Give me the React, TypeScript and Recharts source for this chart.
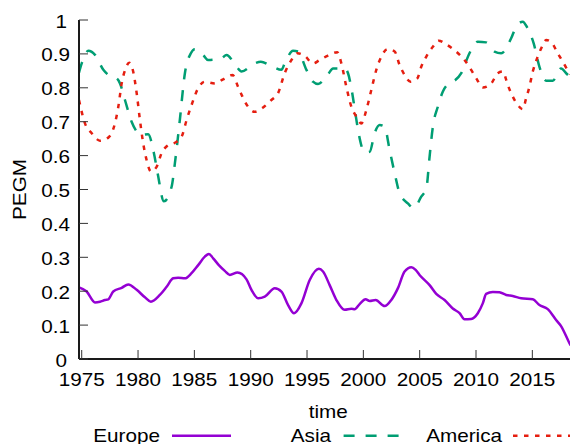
import React from 'react';
import { LineChart, Line, XAxis, YAxis, Label } from 'recharts';

const europeYears = [1974.76, 1975.44, 1976.18, 1976.62, 1977.07, 1977.36, 1977.8, 1978.55, 1979.13, 1979.88, 1980.61, 1981.14, 1981.94, 1982.54, 1983.12, 1983.56, 1984.16, 1984.75, 1985.34, 1985.93, 1986.29, 1986.67, 1987.17, 1987.7, 1988.15, 1988.83, 1989.63, 1990.07, 1990.66, 1991.25, 1992.14, 1992.73, 1993.32, 1993.85, 1994.5, 1995.24, 1996.05, 1996.42, 1997.01, 1997.61, 1998.34, 1998.94, 1999.23, 1999.67, 2000.2, 2000.56, 2001.09, 2001.89, 2002.48, 2003.07, 2003.66, 2004.26, 2004.64, 2004.99, 2005.88, 2006.47, 2007.21, 2007.94, 2008.54, 2008.98, 2009.57, 2010.16, 2010.6, 2010.9, 2011.49, 2012.08, 2012.68, 2013.26, 2014.01, 2015.04, 2015.63, 2016.37, 2017.11, 2017.55, 2018.23, 2018.4];
const europeValues = [0.211, 0.199, 0.167, 0.169, 0.174, 0.176, 0.199, 0.21, 0.22, 0.204, 0.182, 0.169, 0.189, 0.213, 0.238, 0.24, 0.238, 0.253, 0.277, 0.302, 0.31, 0.297, 0.277, 0.26, 0.248, 0.255, 0.235, 0.204, 0.179, 0.184, 0.209, 0.199, 0.159, 0.135, 0.164, 0.233, 0.266, 0.258, 0.218, 0.174, 0.145, 0.148, 0.147, 0.162, 0.176, 0.171, 0.174, 0.156, 0.174, 0.209, 0.258, 0.271, 0.263, 0.248, 0.218, 0.192, 0.174, 0.149, 0.135, 0.117, 0.118, 0.135, 0.164, 0.192, 0.198, 0.197, 0.189, 0.186, 0.179, 0.176, 0.159, 0.147, 0.115, 0.097, 0.051, 0.04];

const asiaYears = [1974.76, 1975.0, 1975.59, 1976.18, 1976.92, 1977.5, 1978.1, 1978.4, 1978.84, 1979.43, 1980.32, 1980.9, 1981.41, 1981.74, 1982.3, 1982.98, 1983.27, 1983.71, 1984.16, 1984.69, 1985.04, 1985.78, 1986.22, 1987.41, 1987.85, 1988.74, 1989.18, 1990.36, 1990.9, 1991.69, 1992.73, 1993.02, 1993.76, 1994.2, 1994.95, 1995.53, 1995.98, 1996.86, 1997.31, 1998.34, 1998.64, 1998.99, 1999.29, 1999.61, 2000.12, 2000.56, 2001.0, 2001.45, 2001.89, 2002.33, 2002.78, 2003.22, 2003.95, 2004.49, 2005.14, 2005.59, 2005.88, 2006.17, 2006.61, 2007.06, 2007.5, 2007.8, 2008.69, 2009.42, 2010.16, 2010.9, 2011.64, 2012.23, 2013.12, 2013.56, 2014.15, 2014.54, 2015.12, 2015.63, 2016.22, 2016.81, 2017.55, 2018.0, 2018.4];
const asiaValues = [0.845, 0.872, 0.909, 0.897, 0.853, 0.835, 0.828, 0.813, 0.764, 0.7, 0.661, 0.663, 0.607, 0.548, 0.465, 0.508, 0.577, 0.705, 0.843, 0.902, 0.914, 0.897, 0.882, 0.887, 0.897, 0.862, 0.848, 0.872, 0.877, 0.867, 0.853, 0.872, 0.909, 0.907, 0.853, 0.818, 0.811, 0.84, 0.857, 0.857, 0.843, 0.789, 0.725, 0.661, 0.609, 0.611, 0.666, 0.69, 0.685, 0.617, 0.548, 0.489, 0.459, 0.445, 0.479, 0.503, 0.597, 0.685, 0.744, 0.789, 0.81, 0.815, 0.843, 0.902, 0.936, 0.934, 0.907, 0.902, 0.946, 0.98, 0.995, 0.978, 0.931, 0.862, 0.821, 0.821, 0.857, 0.843, 0.83];

const americaYears = [1974.76, 1975.29, 1975.89, 1976.62, 1977.36, 1977.95, 1978.25, 1978.55, 1978.9, 1979.22, 1979.57, 1979.88, 1980.17, 1980.46, 1980.76, 1981.14, 1981.65, 1982.09, 1982.68, 1983.27, 1983.87, 1984.31, 1984.75, 1985.34, 1985.93, 1986.82, 1987.55, 1988.39, 1988.88, 1989.27, 1989.77, 1990.36, 1991.1, 1991.84, 1992.43, 1993.02, 1993.62, 1994.15, 1994.8, 1995.53, 1996.13, 1996.86, 1997.69, 1998.05, 1998.49, 1998.94, 1999.38, 1999.82, 2000.27, 2000.71, 2001.15, 2001.6, 2002.13, 2002.78, 2003.22, 2003.66, 2004.19, 2004.79, 2005.14, 2005.59, 2006.17, 2006.68, 2007.36, 2008.24, 2008.98, 2009.57, 2010.02, 2010.6, 2011.35, 2011.93, 2012.38, 2012.82, 2013.26, 2013.71, 2014.15, 2014.45, 2014.74, 2015.04, 2015.48, 2015.93, 2016.22, 2016.72, 2017.25, 2017.79, 2018.21, 2018.4];
const americaValues = [0.764, 0.695, 0.666, 0.644, 0.653, 0.695, 0.744, 0.813, 0.857, 0.874, 0.848, 0.784, 0.705, 0.636, 0.587, 0.553, 0.567, 0.607, 0.631, 0.638, 0.656, 0.705, 0.749, 0.799, 0.818, 0.813, 0.825, 0.838, 0.803, 0.774, 0.744, 0.729, 0.742, 0.764, 0.784, 0.843, 0.882, 0.902, 0.894, 0.872, 0.882, 0.895, 0.905, 0.872, 0.803, 0.744, 0.715, 0.695, 0.735, 0.794, 0.853, 0.892, 0.914, 0.907, 0.867, 0.838, 0.818, 0.828, 0.862, 0.892, 0.921, 0.939, 0.928, 0.907, 0.882, 0.853, 0.828, 0.801, 0.813, 0.843, 0.848, 0.808, 0.774, 0.749, 0.737, 0.769, 0.803, 0.848, 0.892, 0.926, 0.941, 0.933, 0.902, 0.872, 0.848, 0.84];

const xTicks = [1975, 1980, 1985, 1990, 1995, 2000, 2005, 2010, 2015];
const yTicks = [0, 0.1, 0.2, 0.3, 0.4, 0.5, 0.6, 0.7, 0.8, 0.9, 1];
const xDomain = [1974.76, 2019];
const yDomain = [0, 1];

const seriesNames = ['Europe', 'Asia', 'America'];
const xTitle = 'time';
const yTitle = 'PEGM';

const toRows = (ts: number[], vs: number[]) => ts.map((t, i) => ({ t, v: vs[i] }));
const europeRows = toRows(europeYears, europeValues);
const asiaRows = toRows(asiaYears, asiaValues);
const americaRows = toRows(americaYears, americaValues);

const FONT = '"Liberation Sans", Arial, sans-serif';
const SX = 1.15;
const PURPLE = '#9400d3';
const GREEN = '#009e73';
const RED = '#e51e10';
const AXIS = '#1a1a1a';
const TICK = '#333';

function BottomTick(props: any) {
  const { x, y, payload } = props;
  return (
    <g>
      <line x1={x} y1={y} x2={x} y2={y - 9} stroke={TICK} strokeWidth={1} />
      <text transform={`translate(${x},${y + 27}) scale(${SX},1)`} textAnchor="middle" fontSize={18} fontFamily={FONT} fill="#000">
        {payload.value}
      </text>
    </g>
  );
}

function TopTick(props: any) {
  const { x, y } = props;
  return <line x1={x} y1={y} x2={x} y2={y + 9} stroke={TICK} strokeWidth={1} />;
}

function LeftTick(props: any) {
  const { x, y, payload } = props;
  const v = payload.value as number;
  const isInt = v === 0 || v === 1;
  const label = isInt ? String(v) : v.toFixed(1);
  const endX = isInt ? x - 12 : x - 9;
  return (
    <g>
      <line x1={x} y1={y} x2={x + 9} y2={y} stroke={TICK} strokeWidth={1} />
      <text transform={`translate(${endX},${y + 7.5}) scale(${SX},1)`} textAnchor="end" fontSize={18} fontFamily={FONT} fill="#000">
        {label}
      </text>
    </g>
  );
}

function XTitle(props: any) {
  const vb = props.viewBox || { x: 79, y: 359, width: 498, height: 85 };
  const cx = vb.x + vb.width / 2;
  return (
    <text transform={`translate(${cx},${vb.y + 58.7}) scale(${SX},1)`} textAnchor="middle" fontSize={18} fontFamily={FONT} fill="#000">
      {xTitle}
    </text>
  );
}

function YTitle(props: any) {
  const vb = props.viewBox || { x: 0, y: 20, width: 79, height: 339 };
  const cy = vb.y + vb.height / 2;
  return (
    <text transform={`translate(${vb.x + 26.3},${cy}) rotate(-90) scale(${SX},1)`} textAnchor="middle" fontSize={18} fontFamily={FONT} fill="#000">
      {yTitle}
    </text>
  );
}

function LegendOverlay() {
  const ty = 442;
  const ly = 435.7;
  const txt = (x: number, s: string) => (
    <text transform={`translate(${x},${ty}) scale(${SX},1)`} textAnchor="end" fontSize={18} fontFamily={FONT} fill="#000">
      {s}
    </text>
  );
  return (
    <svg width={570} height={444} style={{ position: 'absolute', left: 0, top: 0, pointerEvents: 'none' }}>
      {txt(160, seriesNames[0])}
      <line x1={172} y1={ly} x2={231} y2={ly} stroke={PURPLE} strokeWidth={2.5} />
      {txt(331, seriesNames[1])}
      <line x1={343.6} y1={ly} x2={402.6} y2={ly} stroke={GREEN} strokeWidth={2.5} strokeDasharray="11 11" />
      {txt(502, seriesNames[2])}
      <line x1={513} y1={ly} x2={575} y2={ly} stroke={RED} strokeWidth={2.5} strokeDasharray="4.5 6.5" />
    </svg>
  );
}

export default function App() {
  return (
    <div style={{ position: 'absolute', left: 0, top: 0, width: 570, height: 444, overflow: 'hidden', background: '#fff' }}>
      <LineChart width={600} height={444} margin={{ top: 20, right: 22.6, bottom: 0, left: 0 }}>
        <XAxis
          xAxisId="bottom"
          type="number"
          dataKey="t"
          domain={xDomain}
          allowDataOverflow
          ticks={xTicks}
          interval={0}
          height={85}
          tickSize={0}
          tickMargin={0}
          tickLine={false}
          axisLine={{ stroke: AXIS, strokeWidth: 2 }}
          tick={<BottomTick />}
        >
          <Label content={<XTitle />} />
        </XAxis>
        <XAxis
          xAxisId="top"
          orientation="top"
          type="number"
          dataKey="t"
          domain={xDomain}
          allowDataOverflow
          ticks={xTicks}
          interval={0}
          height={0}
          tickSize={0}
          tickMargin={0}
          tickLine={false}
          axisLine={{ stroke: AXIS, strokeWidth: 2 }}
          tick={<TopTick />}
        />
        <YAxis
          type="number"
          domain={yDomain}
          allowDataOverflow
          ticks={yTicks}
          interval={0}
          width={79}
          tickSize={0}
          tickMargin={0}
          tickLine={false}
          axisLine={{ stroke: AXIS, strokeWidth: 2 }}
          tick={<LeftTick />}
        >
          <Label content={<YTitle />} />
        </YAxis>
        <Line xAxisId="bottom" data={europeRows} dataKey="v" name={seriesNames[0]} type="monotone" stroke={PURPLE} strokeWidth={2.5} dot={false} activeDot={false} isAnimationActive={false} />
        <Line xAxisId="bottom" data={asiaRows} dataKey="v" name={seriesNames[1]} type="monotone" stroke={GREEN} strokeWidth={2.5} strokeDasharray="11 11" dot={false} activeDot={false} isAnimationActive={false} />
        <Line xAxisId="bottom" data={americaRows} dataKey="v" name={seriesNames[2]} type="monotone" stroke={RED} strokeWidth={2.5} strokeDasharray="4.5 6.5" dot={false} activeDot={false} isAnimationActive={false} />
      </LineChart>
      <LegendOverlay />
    </div>
  );
}
